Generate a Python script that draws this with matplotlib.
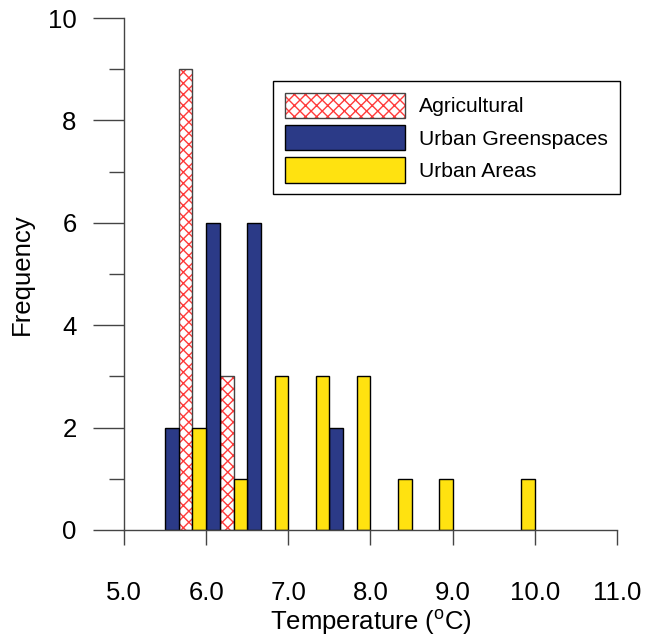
import numpy as np
import matplotlib.pyplot as plt
from matplotlib.ticker import MultipleLocator
from matplotlib.legend_handler import HandlerTuple

plt.rcParams['font.family'] = ['Liberation Sans', 'DejaVu Sans']
plt.rcParams['mathtext.default'] = 'regular'
plt.rcParams['hatch.linewidth'] = 1.0

# bin left edges (0.5 degC bins)
bin_edges = [5.5, 6.0, 6.5, 7.0, 7.5, 8.0, 8.5, 9.0, 9.5]
greenspaces = [2, 6, 6, 0, 2, 0, 0, 0, 0]
agricultural = [9, 3, 0, 0, 0, 0, 0, 0, 0]
urban_areas = [2, 1, 3, 3, 3, 1, 1, 0, 1]
xticks = [5.0, 6.0, 7.0, 8.0, 9.0, 10.0, 11.0]

fig = plt.figure(figsize=(6.45, 6.39), dpi=100)
ax = fig.add_axes([0.1922, 0.1706, 0.7644, 0.8012])

w = 0.5 / 3
x = np.array(bin_edges)

def nz(vals):
    v = np.array(vals, dtype=float)
    return x[v > 0], v[v > 0]

# hatched agricultural bars: red hatch, then a dark outline on top
xa, ya = nz(agricultural)
b_hatch = ax.bar(xa + w, ya, width=w, align='edge', color='white',
                 edgecolor='#ff3b3b', hatch='xxx', linewidth=0)
b_line = ax.bar(xa + w, ya, width=w, align='edge', fill=False,
                edgecolor='#444444', linewidth=1)

xg, yg = nz(greenspaces)
b_green = ax.bar(xg, yg, width=w, align='edge', color='#2b3a87',
                 edgecolor='black', linewidth=1)
xu, yu = nz(urban_areas)
b_urb = ax.bar(xu + 2 * w, yu, width=w, align='edge', color='#ffe210',
               edgecolor='black', linewidth=1)

ax.set_xlim(5.0, 11.0)
ax.set_ylim(0, 10)
ax.set_xticks(xticks)
ax.set_xticklabels(['%.1f' % t for t in xticks])
ax.yaxis.set_major_locator(MultipleLocator(2))
ax.yaxis.set_minor_locator(MultipleLocator(1))

for s in ['top', 'right']:
    ax.spines[s].set_visible(False)
for s in ['left', 'bottom']:
    ax.spines[s].set_color('#444444')
    ax.spines[s].set_linewidth(1)

ax.tick_params(axis='y', which='major', direction='out', length=22, width=1,
               color='#444444', labelsize=18.5, pad=12)
ax.tick_params(axis='y', which='minor', direction='out', length=11, width=1,
               color='#444444')
ax.tick_params(axis='x', which='major', direction='out', length=11, width=1,
               color='#444444', labelsize=18.5, pad=26)

ax.set_xlabel('Temperature ($^{o}$C)', fontsize=18.5, labelpad=2)
ax.set_ylabel('Frequency', fontsize=18.5, labelpad=10)

leg = ax.legend(handles=[(b_hatch[0], b_line[0]), b_green[0], b_urb[0]],
                labels=['Agricultural', 'Urban Greenspaces', 'Urban Areas'],
                handler_map={tuple: HandlerTuple(ndivide=1, pad=0)},
                loc='upper left', bbox_to_anchor=(0.303, 0.877),
                borderaxespad=0, fontsize=15.2, handlelength=5.7,
                handleheight=1.5, fancybox=False, framealpha=1,
                edgecolor='black', borderpad=0.55, labelspacing=0.3,
                handletextpad=0.65)
leg.get_frame().set_linewidth(1)

fig.savefig('out.png', dpi=100)
